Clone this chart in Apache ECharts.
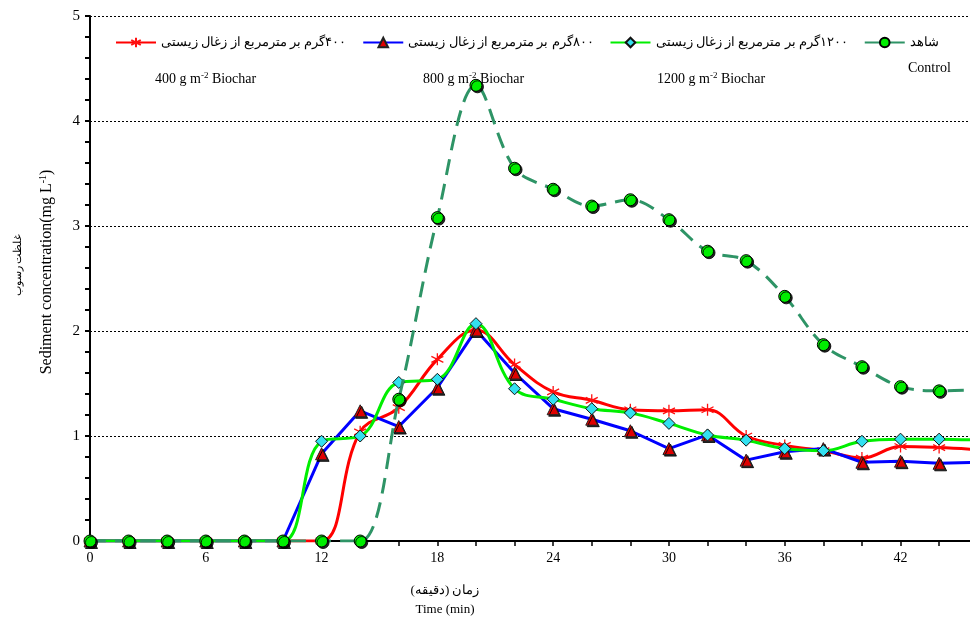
<!DOCTYPE html>
<html>
<head>
<meta charset="utf-8">
<script src="https://cdn.jsdelivr.net/npm/echarts@6/dist/echarts.min.js"></script>
<style>html,body{margin:0;padding:0;background:#fff}#c{width:970px;height:620px}</style>
</head>
<body>
<div id="c"></div>
<script>
const times = [0,2,4,6,8,10,12,14,16,18,20,22,24,26,28,30,32,34,36,38,40,42,44,46];
const biochar400 = [0,0,0,0,0,0,0,1.04,1.27,1.73,2.01,1.68,1.42,1.34,1.25,1.24,1.25,1.00,0.91,0.86,0.79,0.90,0.89,0.87];
const biochar800 = [0,0,0,0,0,0,0.83,1.24,1.09,1.46,2.01,1.60,1.26,1.16,1.05,0.88,1.01,0.77,0.85,0.88,0.75,0.76,0.74,0.75];
const biochar1200 = [0,0,0,0,0,0,0.95,1.00,1.51,1.54,2.07,1.45,1.35,1.26,1.22,1.12,1.01,0.96,0.88,0.86,0.95,0.97,0.97,0.96];
const control = [0,0,0,0,0,0,0,0,1.35,3.08,4.34,3.55,3.35,3.19,3.25,3.06,2.76,2.67,2.33,1.87,1.66,1.47,1.43,1.44];
const seriesNames = ['۴۰۰گرم بر مترمربع از زغال زیستی','۸۰۰گرم بر مترمربع از زغال زیستی','۱۲۰۰گرم بر مترمربع از زغال زیستی','شاهد'];
const annotations = ['400 g m','800 g m','1200 g m','Control'];
const yTitleEn = 'Sediment concentration(mg L';
const yTitleFa = 'غلظت رسوب';
const xTitleFa = 'زمان (دقیقه)';
const xTitleEn = 'Time (min)';

const RLM = '\u200F';
const rtl = s => RLM + s + RLM;
const pair = arr => times.map((t,i)=>[t,arr[i]]);
const serif = "'Liberation Serif','DejaVu Serif',serif";
const shadow = {shadowColor:'rgba(0,0,0,0.85)',shadowOffsetX:1.5,shadowOffsetY:1.5,shadowBlur:0};
const asterisk = 'path://M5,0 L5,10 M0.7,2.5 L9.3,7.5 M9.3,2.5 L0.7,7.5';

const chart = echarts.init(document.getElementById('c'));
const rich = {
  a:{fontFamily:serif,fontSize:14,color:'#000',lineHeight:16},
  s:{fontFamily:serif,fontSize:9,color:'#000',lineHeight:9,verticalAlign:'top'}
};
chart.setOption({
  animation:false,
  grid:{left:90,right:0,top:16,bottom:79,containLabel:false},
  legend:{
    top:31,left:110,right:0,itemWidth:40,itemHeight:12,itemGap:16,
    textStyle:{fontFamily:serif,fontSize:13,color:'#000'},
    formatter:name=>rtl(name),
    data:seriesNames
  },
  xAxis:{
    type:'value',min:0,max:45.6,interval:2,
    axisLine:{lineStyle:{color:'#000',width:2}},
    axisTick:{show:true,length:5,lineStyle:{color:'#000',width:1.5}},
    axisLabel:{fontFamily:serif,fontSize:14,color:'#000',margin:10,showMaxLabel:false,
      formatter:v=> (v%6===0? String(v):'')},
    splitLine:{show:false}
  },
  yAxis:{
    type:'value',min:0,max:5,interval:1,
    axisLine:{show:true,lineStyle:{color:'#000',width:2}},
    axisTick:{show:true,length:5,lineStyle:{color:'#000',width:2}},
    minorTick:{show:true,splitNumber:5,length:5,lineStyle:{color:'#000',width:2}},
    axisLabel:{fontFamily:serif,fontSize:15,color:'#000',margin:10},
    splitLine:{show:true,lineStyle:{color:'#000',type:[2,2],width:1}}
  },
  graphic:[
    {type:'text',left:155,top:71,style:{text:'{a|'+annotations[0]+'}{s|-2}{a| Biochar}',rich:rich}},
    {type:'text',left:423,top:71,style:{text:'{a|'+annotations[1]+'}{s|-2}{a| Biochar}',rich:rich}},
    {type:'text',left:657,top:71,style:{text:'{a|'+annotations[2]+'}{s|-2}{a| Biochar}',rich:rich}},
    {type:'text',left:908,top:61,style:{text:annotations[3],font:'14px '+serif,fill:'#000'}},
    {type:'text',x:47,y:272,rotation:Math.PI/2,
      style:{text:'{b|'+yTitleEn+'}{t|-1}{b|)}',align:'center',verticalAlign:'middle',
        rich:{b:{fontFamily:serif,fontSize:16,color:'#000',lineHeight:18},t:{fontFamily:serif,fontSize:10,color:'#000',lineHeight:10,verticalAlign:'top'}}}},
    {type:'text',x:18,y:265,rotation:Math.PI/2,
      style:{text:rtl(yTitleFa),align:'center',verticalAlign:'middle',font:'11px '+serif,fill:'#000'}},
    {type:'text',x:445,y:591,style:{text:rtl(xTitleFa),align:'center',verticalAlign:'middle',font:'13px '+serif,fill:'#000'}},
    {type:'text',x:445,y:610,style:{text:xTitleEn,align:'center',verticalAlign:'middle',font:'13px '+serif,fill:'#000'}}
  ],
  series:[
    {name:seriesNames[0],type:'line',data:pair(biochar400),smooth:0.4,clip:true,
      symbol:asterisk,symbolSize:12,
      lineStyle:{color:'#ff0000',width:3},
      itemStyle:{color:'#ffffff',borderColor:'#ff1010',borderWidth:1.3},z:3},
    {name:seriesNames[1],type:'line',data:pair(biochar800),smooth:false,clip:true,
      symbol:'triangle',symbolSize:12,
      lineStyle:{color:'#0000ff',width:3},
      itemStyle:Object.assign({color:'#e00000',borderColor:'#222',borderWidth:1},shadow),z:4},
    {name:seriesNames[2],type:'line',data:pair(biochar1200),smooth:0.4,clip:true,
      symbol:'diamond',symbolSize:12,
      lineStyle:{color:'#00ee00',width:3},
      itemStyle:{color:'#33e0f0',borderColor:'#111',borderWidth:1},z:5},
    {name:seriesNames[3],type:'line',data:pair(control),smooth:0.35,clip:true,
      symbol:'circle',symbolSize:12,
      lineStyle:{color:'#2e9466',width:3,type:[16,9]},
      itemStyle:Object.assign({color:'#00ee00',borderColor:'#000',borderWidth:1},shadow),z:6}
  ]
});
</script>
</body>
</html>
